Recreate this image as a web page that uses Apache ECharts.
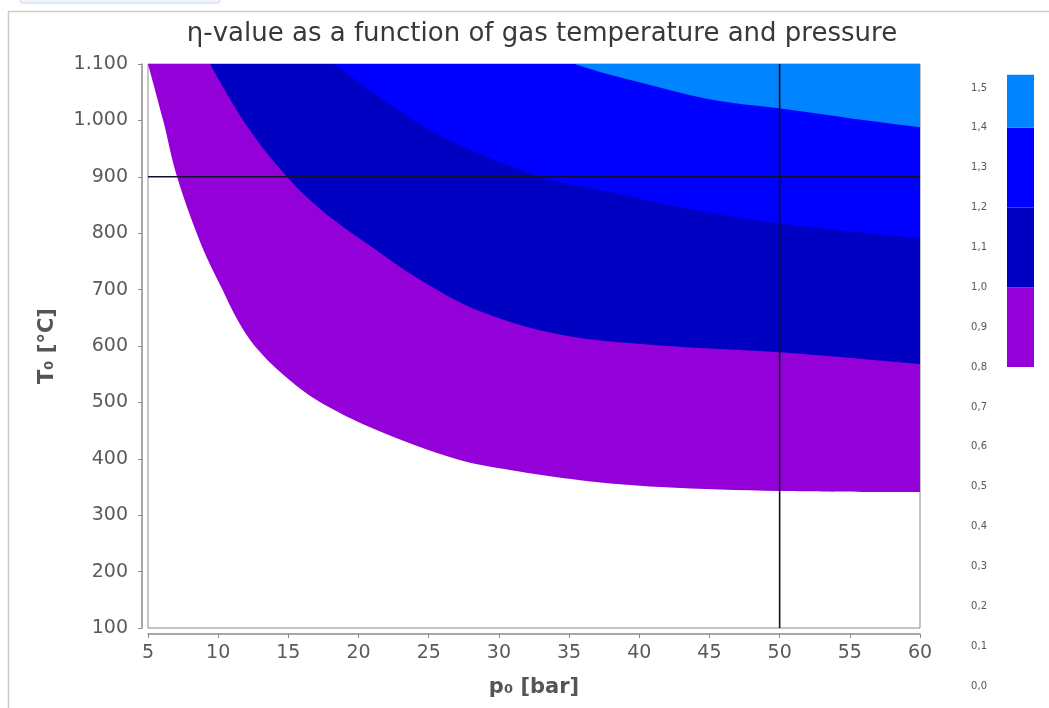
<!DOCTYPE html>
<html>
<head>
<meta charset="utf-8">
<script src="https://cdn.jsdelivr.net/npm/echarts@6/dist/echarts.min.js"></script>
<style>
  html, body { margin: 0; padding: 0; background: #fff; }
  #chart { width: 1049px; height: 708px; }
</style>
</head>
<body>
<div id="chart"></div>
<script>
// Contour lines of the eta-value: [pressure in bar, gas temperature in °C]
const contour08 = [[5, 1100], [6.07, 1001], [7.07, 900], [8.85, 776], [10.3, 700], [11.4, 645], [12.6, 600], [14.6, 550], [17.1, 503], [21.2, 452], [26.9, 400], [30.8, 380], [35.8, 362], [41.5, 350], [50, 343], [60, 341]];
const contour10 = [[9.42, 1100], [12, 992], [14.9, 900], [17.5, 838], [20.8, 778], [24.4, 717], [28.7, 661], [34.4, 620], [41.5, 601], [50, 589], [60, 568]];
const contour12 = [[18.3, 1100], [25.1, 983], [32.9, 900], [37.2, 877], [42.9, 846], [49.8, 818], [60, 791]];
const contour14 = [[35.4, 1100], [37.2, 1086], [40.3, 1066], [44.3, 1041], [46.7, 1031], [49.8, 1022], [55, 1004], [60, 988]];

const contourLevels = [0.8, 1.0, 1.2, 1.4];
const levelColors = ['#9400d8', '#0000c2', '#0000ff', '#0084ff'];

// Colour scale bands: [lower, upper] eta-value
const scaleBands = [[0.8, 1.0], [1.0, 1.2], [1.2, 1.4], [1.4, 1.533]];

// Operating point marked by the crosshair
const markPressure = 50;
const markTemperature = 900;

// Axis ranges and tick steps
const pressureRange = [5, 60, 5];
const temperatureRange = [100, 1100, 100];
const etaRange = [0, 1.5, 0.1];

const FONT = 'DejaVu Sans';

const chart = echarts.init(document.getElementById('chart'), null, { renderer: 'canvas' });

const contours = [contour08, contour10, contour12, contour14];

// Each level fills from its contour up to the top of the temperature axis
const areaSeries = contours.map((pts, i) => ({
  name: 'η ≥ ' + contourLevels[i],
  type: 'line',
  xAxisIndex: 0,
  yAxisIndex: 0,
  data: pts,
  showSymbol: false,
  smooth: 0.35,
  lineStyle: { width: 0 },
  areaStyle: { color: levelColors[i], opacity: 1, origin: 'end' },
  z: 2 + i,
  silent: true,
  animation: false
}));

const crossStyle = { color: '#10102a', width: 1.6 };
const crosshairSeries = [
  [[markPressure, temperatureRange[0]], [markPressure, temperatureRange[1]]],
  [[pressureRange[0], markTemperature], [pressureRange[1], markTemperature]]
].map((pts, i) => ({
  name: 'crosshair ' + i,
  type: 'line',
  xAxisIndex: 0, yAxisIndex: 0,
  data: pts,
  showSymbol: false,
  lineStyle: crossStyle,
  z: 20,
  silent: true
}));

const thousands = v => String(v).replace(/\B(?=(\d{3})+(?!\d))/g, '.');

chart.setOption({
  animation: false,
  backgroundColor: '#ffffff',
  title: {
    text: 'η-value as a function of gas temperature and pressure',
    left: 537,
    top: 16,
    textAlign: 'center',
    textStyle: { fontFamily: FONT, fontSize: 26, fontWeight: 'normal', color: '#383838' }
  },
  graphic: [
    { type: 'rect', shape: { x: 20, y: -10, width: 200, height: 13, r: 3 },
      style: { fill: '#f3f7fb', stroke: '#c6d6e6', lineWidth: 1 }, z: 100 },
    { type: 'polyline', shape: { points: [[8.5, 708], [8.5, 11.5], [1049, 11.5]] },
      style: { stroke: '#cccccc', lineWidth: 1.5, fill: null }, z: 100 }
  ],
  grid: [
    { left: 148, right: 129, top: 64, bottom: 80, show: true, borderColor: '#8a8a8a', borderWidth: 1, backgroundColor: 'transparent' },
    { left: 1007, width: 27, top: 88, bottom: 22 }
  ],
  xAxis: [
    {
      type: 'value', gridIndex: 0,
      min: pressureRange[0], max: pressureRange[1], interval: pressureRange[2],
      offset: 6,
      name: 'p₀ [bar]', nameLocation: 'middle', nameGap: 43,
      nameTextStyle: { fontFamily: FONT, fontSize: 21, fontWeight: 'bold', color: '#555' },
      axisLine: { show: true, onZero: false, lineStyle: { color: '#8a8a8a', width: 1.5 } },
      axisTick: { show: true, length: 4, inside: false, lineStyle: { color: '#8a8a8a' } },
      axisLabel: { fontFamily: FONT, fontSize: 19, color: '#5a5a5a', margin: 10 },
      splitLine: { show: false }
    },
    {
      type: 'value', gridIndex: 1, min: 0, max: 1, show: false
    }
  ],
  yAxis: [
    {
      type: 'value', gridIndex: 0,
      min: temperatureRange[0], max: temperatureRange[1], interval: temperatureRange[2],
      offset: 6,
      name: 'T₀ [°C]', nameLocation: 'middle', nameGap: 84, nameRotate: 90,
      nameTextStyle: { fontFamily: FONT, fontSize: 21, fontWeight: 'bold', color: '#555' },
      axisLine: { show: true, onZero: false, lineStyle: { color: '#8a8a8a', width: 1.5 } },
      axisTick: { show: true, length: 4, inside: false, lineStyle: { color: '#8a8a8a' } },
      axisLabel: { fontFamily: FONT, fontSize: 19, color: '#5a5a5a', margin: 14, formatter: thousands },
      splitLine: { show: false }
    },
    {
      type: 'value', gridIndex: 1,
      min: etaRange[0], max: etaRange[1], interval: etaRange[2],
      axisLine: { show: false },
      axisTick: { show: false },
      splitLine: { show: false },
      axisLabel: {
        fontFamily: FONT, fontSize: 10, color: '#555', margin: 20,
        formatter: v => v.toFixed(1).replace('.', ',')
      }
    }
  ],
  series: [
    ...areaSeries,
    ...crosshairSeries,
    {
      name: 'colour scale',
      type: 'custom',
      xAxisIndex: 1, yAxisIndex: 1,
      data: scaleBands.map((b, i) => [b[0], b[1], i]),
      silent: true,
      clip: false,
      renderItem: (params, api) => {
        const lo = api.value(0), hi = api.value(1), idx = api.value(2);
        const p1 = api.coord([0, hi]);
        const p2 = api.coord([1, lo]);
        return {
          type: 'rect',
          shape: { x: p1[0], y: p1[1], width: p2[0] - p1[0], height: p2[1] - p1[1] },
          style: { fill: levelColors[idx] }
        };
      }
    }
  ]
});
</script>
</body>
</html>
